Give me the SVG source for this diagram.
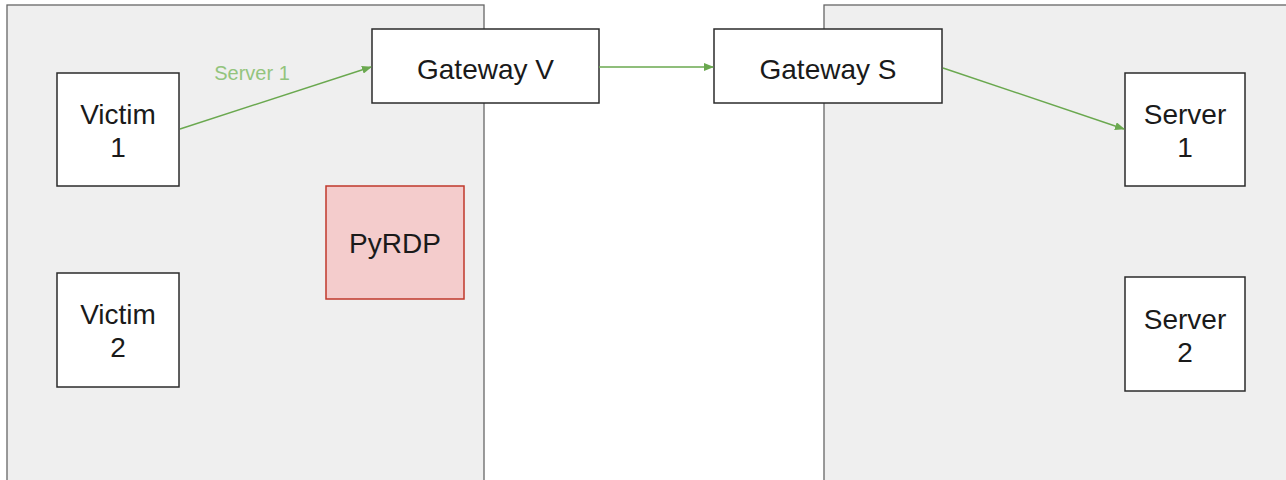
<svg xmlns="http://www.w3.org/2000/svg" width="1286" height="480" viewBox="0 0 1286 480">
  <defs>
    <marker id="arrow" markerWidth="10" markerHeight="8" refX="9" refY="4" orient="auto" markerUnits="userSpaceOnUse">
      <path d="M0,0 L10,4 L0,8 Z" fill="#6aa84f"/>
    </marker>
  </defs>
  <style>
    .zone { fill: #efefef; stroke: #666666; stroke-width: 1.3; }
    .box { fill: #ffffff; stroke: #2b2b2b; stroke-width: 1.5; }
    .attacker { fill: #f4cccc; stroke: #c0392b; stroke-width: 1.5; }
    .label { font-family: "Liberation Sans", Arial, sans-serif; font-size: 28px; fill: #1a1a1a; text-anchor: middle; }
    .edge { stroke: #6aa84f; stroke-width: 1.4; fill: none; marker-end: url(#arrow); }
    .edge-label { font-family: "Liberation Sans", Arial, sans-serif; font-size: 20px; fill: #93c47d; text-anchor: middle; }
  </style>

  <rect width="1286" height="480" fill="#ffffff"/>

  <!-- network zones -->
  <rect class="zone" x="7" y="5" width="477" height="480"/>
  <rect class="zone" x="824" y="5" width="470" height="480"/>

  <g id="victim1">
    <rect class="box" x="57" y="73" width="122" height="113"/>
    <text class="label" x="118" y="124">Victim</text>
    <text class="label" x="118" y="157">1</text>
  </g>

  <g id="victim2">
    <rect class="box" x="57" y="273" width="122" height="114"/>
    <text class="label" x="118" y="324">Victim</text>
    <text class="label" x="118" y="357">2</text>
  </g>

  <g id="pyrdp">
    <rect class="attacker" x="326" y="186" width="138" height="113"/>
    <text class="label" x="395" y="253">PyRDP</text>
  </g>

  <g id="gateway-v">
    <rect class="box" x="372" y="29" width="227" height="74"/>
    <text class="label" x="485.5" y="79">Gateway V</text>
  </g>

  <g id="gateway-s">
    <rect class="box" x="714" y="29" width="228" height="74"/>
    <text class="label" x="828" y="79">Gateway S</text>
  </g>

  <g id="server1">
    <rect class="box" x="1125" y="73" width="120" height="113"/>
    <text class="label" x="1185" y="124">Server</text>
    <text class="label" x="1185" y="157">1</text>
  </g>

  <g id="server2">
    <rect class="box" x="1125" y="277" width="120" height="114"/>
    <text class="label" x="1185" y="329">Server</text>
    <text class="label" x="1185" y="362">2</text>
  </g>

  <g id="connectors">
    <line class="edge" x1="180" y1="129" x2="371" y2="67"/>
    <text class="edge-label" x="252" y="80">Server 1</text>
    <line class="edge" x1="599" y1="67" x2="713" y2="67"/>
    <line class="edge" x1="943" y1="68" x2="1124" y2="129"/>
  </g>
</svg>
